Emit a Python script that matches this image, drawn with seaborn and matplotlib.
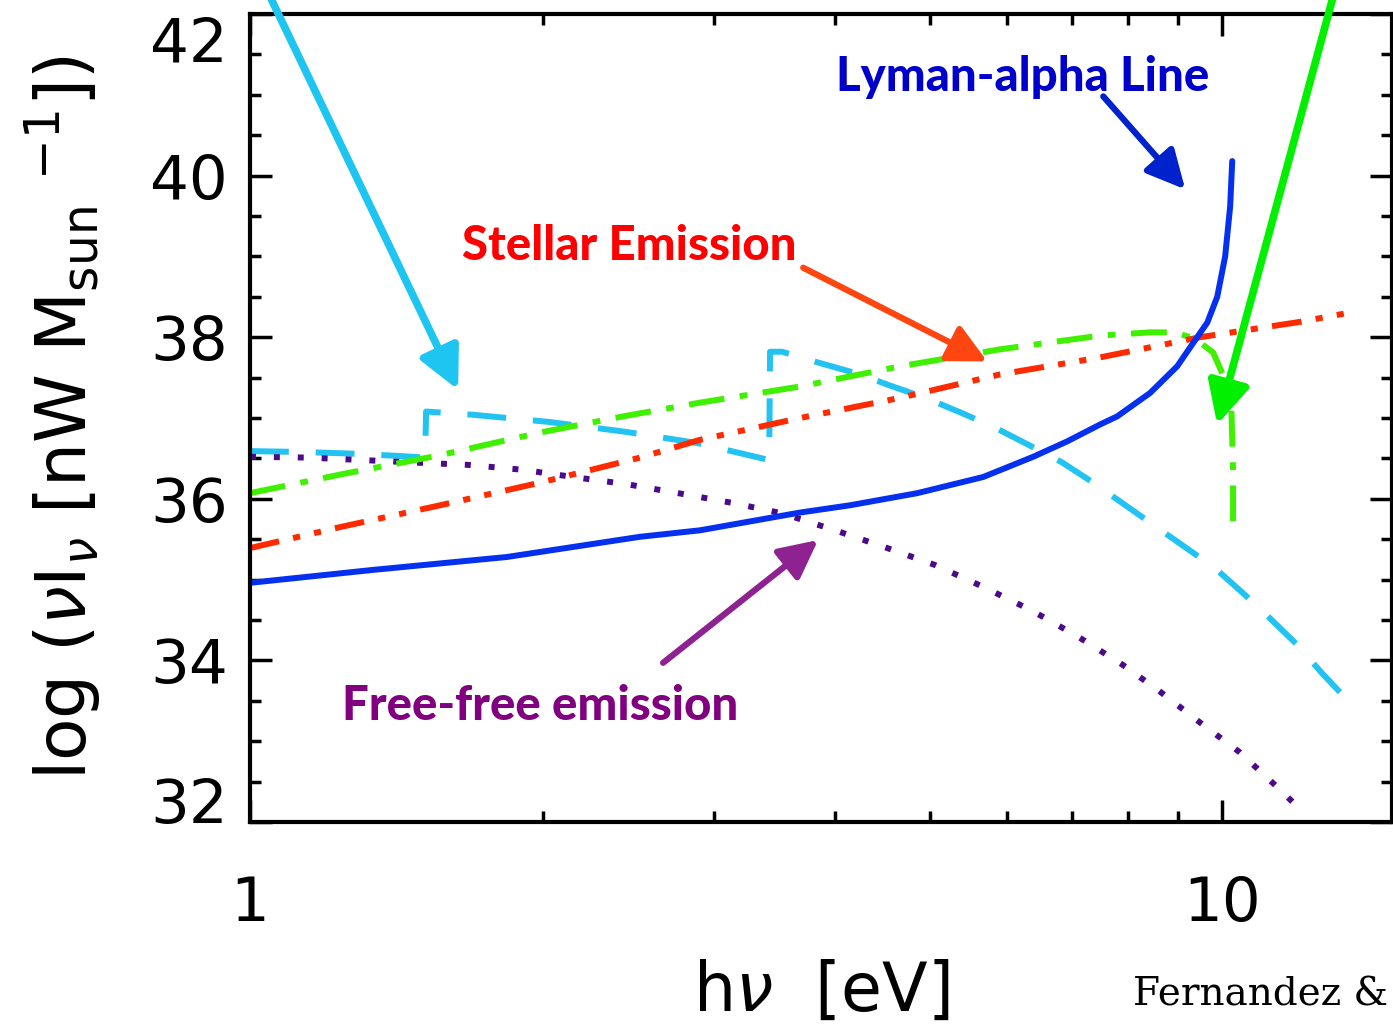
import numpy as np
import pandas as pd
import matplotlib
matplotlib.use("Agg")
import matplotlib.pyplot as plt
import matplotlib.transforms as mtransforms
import seaborn as sns
from matplotlib.ticker import FixedLocator, FixedFormatter, NullFormatter, MultipleLocator

# ---------------- data ----------------
# Lyman-alpha line (solid blue)
lya_x = [1.000, 1.338, 1.838, 2.519, 2.903, 3.680, 4.142, 4.857, 5.678, 6.391,
         6.925, 7.489, 7.798, 8.430, 8.989, 9.337, 9.652, 9.883, 10.07, 10.19, 10.24]
lya_y = [34.96, 35.12, 35.28, 35.53, 35.61, 35.83, 35.92, 36.07, 36.27, 36.52,
         36.71, 36.92, 37.02, 37.31, 37.64, 37.93, 38.18, 38.50, 39.00, 39.62, 40.18]

# Stellar emission (red dash-dot-dot)
star_x = [1.000, 1.238, 1.569, 1.988, 2.519, 2.903, 3.680, 4.664, 5.910, 7.489, 9.490, 12.03, 13.60]
star_y = [35.39, 35.65, 35.92, 36.20, 36.51, 36.73, 37.00, 37.25, 37.54, 37.75, 38.00, 38.19, 38.31]

# Second stellar component (green dash-dot)
pop_x = [1.000, 1.238, 1.569, 1.988, 2.419, 2.903, 3.680, 4.664, 5.910, 7.489, 8.430,
         8.944, 9.380, 9.788, 10.07, 10.22, 10.26, 10.26]
pop_y = [36.07, 36.30, 36.54, 36.82, 37.02, 37.19, 37.39, 37.64, 37.85, 38.02, 38.06,
         38.06, 37.98, 37.81, 37.47, 37.10, 36.36, 35.71]

# Continuum (cyan long dash)
cont_x = [1.000, 1.126, 1.267, 1.427, 1.514, 1.5175, 1.696, 2.035, 2.431, 2.884, 3.420,
          3.427, 3.527, 3.831, 4.242, 4.533, 4.949, 5.377, 5.841, 6.316, 6.845, 7.367,
          9.835, 10.51, 11.20, 11.95, 12.67, 13.45]
cont_y = [36.59, 36.58, 36.56, 36.53, 36.51, 37.08, 37.04, 36.95, 36.83, 36.69, 36.48,
          37.82, 37.82, 37.69, 37.54, 37.41, 37.25, 37.07, 36.88, 36.67, 36.45, 36.20,
          35.14, 34.83, 34.52, 34.19, 33.84, 33.51]

# Free-free emission (purple dotted)
ff_x = [1.000, 1.147, 1.304, 1.471, 1.676, 1.905, 2.149, 2.443, 2.756, 3.132, 3.527,
        3.998, 4.500, 5.067, 5.678, 6.362, 7.094, 7.889, 8.596, 9.515, 10.43, 11.42, 11.95]
ff_y = [36.52, 36.51, 36.48, 36.45, 36.42, 36.36, 36.27, 36.18, 36.07, 35.95, 35.82,
        35.61, 35.40, 35.18, 34.91, 34.62, 34.30, 33.95, 33.63, 33.22, 32.86, 32.42, 32.19]

x_ticks = [1, 10]
x_ticklabels = ["1", "10"]
y_ticks = [32, 34, 36, 38, 40, 42]

# ---------------- figure ----------------
sns.set_style("ticks")
plt.rcParams["font.family"] = ["DejaVu Sans"]
plt.rcParams["mathtext.fontset"] = "dejavusans"
plt.rcParams["text.color"] = "black"
plt.rcParams["axes.labelcolor"] = "black"
plt.rcParams["xtick.color"] = "black"
plt.rcParams["ytick.color"] = "black"

fig = plt.figure(figsize=(13.93, 10.30), dpi=100)
ax = fig.add_axes([250 / 1393, 1 - 822 / 1030, (1392 - 250) / 1393, (822 - 14) / 1030])

lw = 4.3
series = [
    (cont_x, cont_y, "#22C3F2", (0, (6.5, 4.5))),
    (ff_x, ff_y, "#4B0A8C", (0, (1.0, 3.0))),
    (pop_x, pop_y, "#3FF000", (0, (6.0, 2.6, 1.3, 2.6))),
    (star_x, star_y, "#FF2A00", (0, (5.0, 2.4, 1.2, 2.4, 1.2, 2.4))),
    (lya_x, lya_y, "#0530F0", "-"),
]
for xs, ys, col, ls in series:
    df = pd.DataFrame({"x": xs, "y": ys})
    sns.lineplot(data=df, x="x", y="y", ax=ax, sort=False, estimator=None,
                 color=col, linewidth=lw, linestyle=ls)

ax.set_xscale("log")
ax.set_xlim(1, 14.95)
ax.set_ylim(32, 42)

ax.xaxis.set_major_locator(FixedLocator(x_ticks))
ax.xaxis.set_major_formatter(FixedFormatter(x_ticklabels))
ax.xaxis.set_minor_locator(FixedLocator([2, 3, 4, 5, 6, 7, 8, 9]))
ax.xaxis.set_minor_formatter(NullFormatter())
ax.yaxis.set_major_locator(FixedLocator(y_ticks))
ax.yaxis.set_minor_locator(MultipleLocator(0.5))

for s in ax.spines.values():
    s.set_visible(True)
    s.set_linewidth(3)
    s.set_color("black")

ax.tick_params(which="both", direction="in", top=True, right=True, color="black", width=2.5)
ax.tick_params(which="major", length=16)
ax.tick_params(which="minor", length=8)
ax.tick_params(axis="y", which="major", labelsize=44, pad=16, labelcolor="black")
ax.tick_params(axis="x", which="major", labelsize=44, pad=38, labelcolor="black")

# shift extreme y labels inward as in the reference
ax.get_yticklabels()  # make sure ticks are created and positioned
for t in ax.yaxis.get_major_ticks():
    v = t.get_loc()
    if v is None:
        continue
    if np.isclose(v, 42):
        t.label1.set_transform(t.label1.get_transform() +
                               mtransforms.ScaledTranslation(0, -0.25, fig.dpi_scale_trans))
    elif np.isclose(v, 32):
        t.label1.set_transform(t.label1.get_transform() +
                               mtransforms.ScaledTranslation(0, 0.22, fig.dpi_scale_trans))

ax.set_xlabel(r"h$\nu$  [eV]", fontsize=48, labelpad=18)
ax.set_ylabel(r"log ($\nu$I$_\nu$ [nW M$_{\mathrm{sun}}$ $^{-1}$])", fontsize=50, labelpad=34)

# ---------------- annotations ----------------
bold_font = ["Lato", "DejaVu Sans"]
ax.text(4.008, 41.05, "Lyman-alpha Line", color="#0000CC", fontsize=34,
        fontweight="black", family=bold_font, ha="left", va="baseline")
ax.text(1.652, 38.96, "Stellar Emission", color="#FF0000", fontsize=34,
        fontweight="black", family=bold_font, ha="left", va="baseline")
ax.text(1.2435, 33.26, "Free-free emission", color="#800080", fontsize=34,
        fontweight="black", family=bold_font, ha="left", va="baseline")

def arrow(tail, head, col, lw_a, ms):
    ax.annotate("", xy=head, xytext=tail, xycoords="data", textcoords="data",
                annotation_clip=False,
                arrowprops=dict(arrowstyle="-|>,head_length=0.9,head_width=0.45",
                                color=col, lw=lw_a, mutation_scale=ms,
                                shrinkA=0, shrinkB=0))

arrow((7.545, 40.98), (9.161, 39.83), "#0022CC", 4.5, 26)
arrow((3.707, 38.86), (5.732, 37.70), "#FF4510", 4.5, 26)
arrow((2.660, 33.97), (3.840, 35.49), "#8E2290", 4.5, 26)
arrow((1.031, 42.40), (1.637, 37.35), "#1EC5F0", 5.5, 28)
arrow((13.13, 42.40), (9.883, 36.92), "#00F000", 5.5, 28)

fig.text(1133 / 1393, 1 - 1005 / 1030, "Fernandez &", fontsize=28,
         family=["DejaVu Serif"], ha="left", va="baseline")

fig.savefig("out.png", dpi=100)
